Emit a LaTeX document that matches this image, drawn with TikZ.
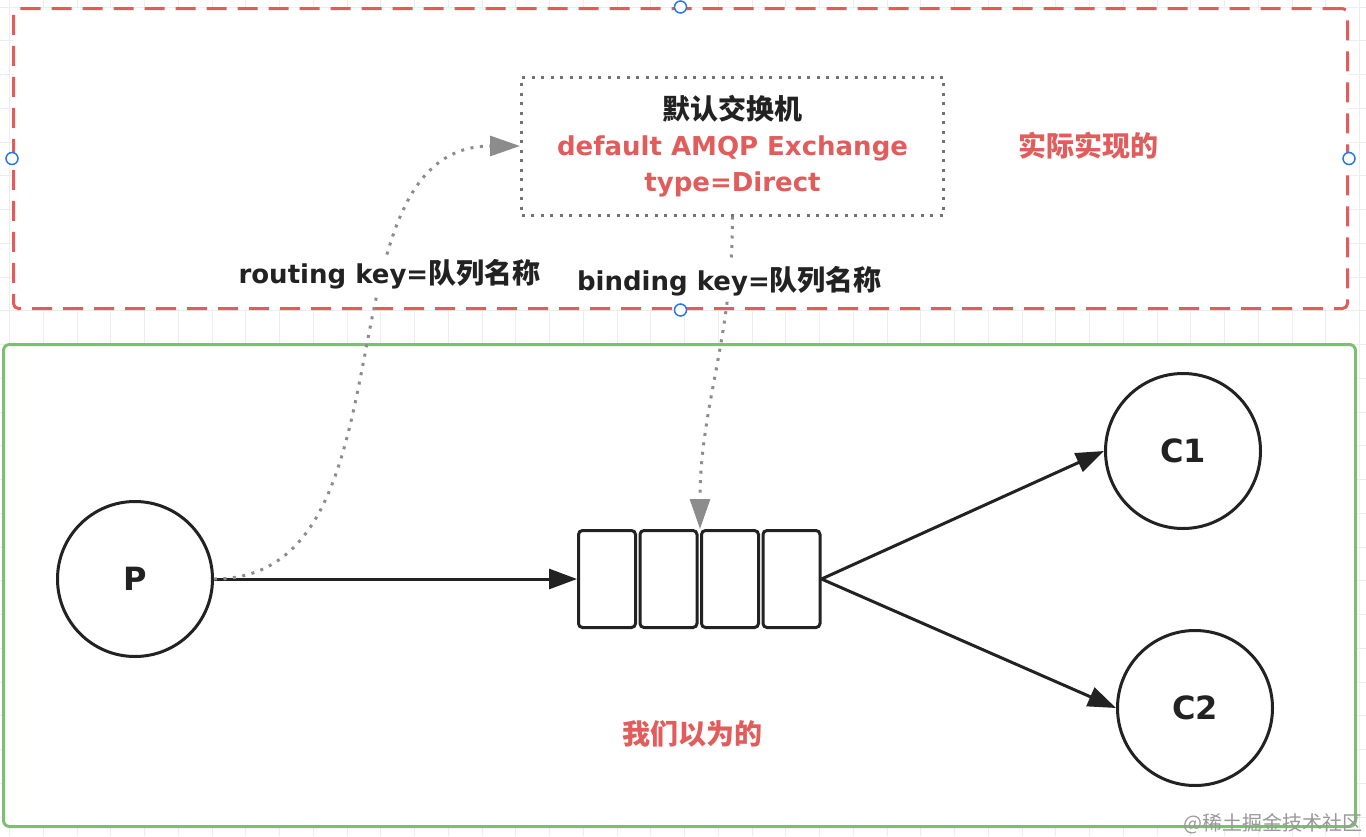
\documentclass[tikz,border=0pt]{standalone}
\usepackage{fontspec}
\setmainfont{DejaVu Sans}
\newfontfamily\cjk{Noto Sans CJK SC}
\usetikzlibrary{positioning}
\usetikzlibrary{arrows.meta}

\definecolor{realred}{RGB}{226,92,92}
\definecolor{thinkgreen}{RGB}{125,190,115}
\definecolor{ink}{RGB}{34,34,34}
\definecolor{dotgray}{RGB}{140,140,140}
\definecolor{handleblue}{RGB}{40,120,235}

\newcommand{\zh}[1]{{\cjk\bfseries\fontsize{28}{30}\selectfont #1}}

\tikzset{
	redbox/.style={draw=realred, line width=3pt, dash pattern=on 20pt off 11pt, rounded corners=5pt, fill=white, minimum width=1334pt, minimum height=300pt},
	greenbox/.style={draw=thinkgreen, line width=3pt, rounded corners=6pt, fill=white, minimum width=1352pt, minimum height=482pt},
	exchbox/.style={draw=black!55, line width=3pt, dash pattern=on 3pt off 6.5pt, minimum width=422pt, minimum height=138pt, align=center, text=ink, font=\bfseries\fontsize{26}{36}\selectfont},
	party/.style={circle, draw=ink, line width=3pt, minimum size=155pt, inner sep=0pt, text=ink, font=\bfseries\fontsize{32}{36}\selectfont},
	cell/.style={draw=ink, line width=3pt, rounded corners=4pt, minimum width=57pt, minimum height=97pt},
	flow/.style={draw=ink, line width=3pt, -{Triangle[length=28pt,width=20pt]}},
	binding/.style={draw=dotgray, line width=3pt, dash pattern=on 3pt off 6.5pt, -{Triangle[length=30pt,width=20pt]}},
	keylabel/.style={fill=white, inner sep=3pt, text=ink, font=\bfseries\fontsize{26}{30}\selectfont},
	handle/.style={draw=handleblue, fill=white, line width=1.5pt}
}

\begin{document}
\begin{tikzpicture}[x=1pt, y=-1pt]
	\useasboundingbox (0,0) rectangle (1366,836);

	% grid
	\foreach \i in {0,...,40} {
		\draw[black!7, line width=0.8pt] (9.5+33.75*\i,0) -- (9.5+33.75*\i,836);
	}
	\foreach \j in {0,...,24} {
		\draw[black!7, line width=0.8pt] (0,7+33.75*\j) -- (1366,7+33.75*\j);
	}

	\node[redbox] (real) at (680.5,158.5) {};
	\node[greenbox] (think) at (679.5,585.5) {};

	\foreach \a in {north,west,east,south}
		\draw[handle] (real.\a) circle (6pt);

	\node[exchbox] (exch) at (732.5,146) {\zh{默认交换机}\\\textcolor{realred}{default AMQP Exchange}\\\textcolor{realred}{type=Direct}};
	\node (realnote) [right=70pt of exch] {\zh{\textcolor{realred}{实际实现的}}};

	\node[party] (P) at (135,579) {P};

	\node[cell] (q1) [right=363pt of P] {};
	\node[cell] (q2) [right=1.5pt of q1] {};
	\node[cell] (q3) [right=1.5pt of q2] {};
	\node[cell] (q4) [right=1.5pt of q3] {};

	\node[party] (C1) [right=282.5pt of q4, yshift=128pt] {C1};
	\node[party] (C2) [right=294.5pt of q4, yshift=-129pt] {C2};

	\node (thinknote) at (692,734) {\zh{\textcolor{realred}{我们以为的}}};

	\path[draw, flow] (P) -- (q1);
	\path[draw, flow] (q4.east) -- (C1.west);
	\path[draw, flow] (q4.east) -- (C2.west);

	\path[draw, binding] (P.east) to[out=0, in=180] node[keylabel, pos=0.64] {routing key=\zh{队列名称}} (exch.west);
	\path[draw, binding] (exch.south) to[out=-90, in=90] node[keylabel, pos=0.19] {binding key=\zh{队列名称}} (q3.north west);

	\node[anchor=west, text=black!40, font=\cjk\fontsize{20}{22}\selectfont, inner sep=0pt] (mark) at (1183,824) {@稀土掘金技术社区};

\end{tikzpicture}
\end{document}
